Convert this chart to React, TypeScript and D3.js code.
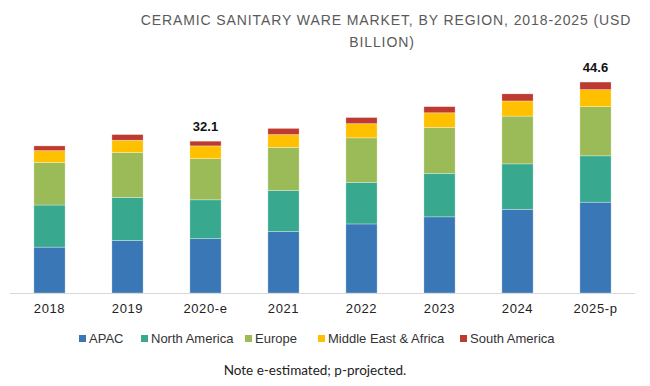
import React, {useEffect, useRef} from 'react';
import * as d3 from 'd3';

const years = ['2018', '2019', '2020-e', '2021', '2022', '2023', '2024', '2025-p'];
const regions = ['APAC', 'North America', 'Europe', 'Middle East & Africa', 'South America'];
const apac = [9.7, 11.1, 11.5, 13.0, 14.6, 16.1, 17.7, 19.2];
const northAmerica = [8.9, 9.1, 8.2, 8.7, 8.8, 9.2, 9.6, 9.8];
const europe = [9.0, 9.5, 8.7, 9.1, 9.4, 9.7, 10.1, 10.4];
const mea = [2.5, 2.6, 2.7, 2.7, 3.0, 3.1, 3.2, 3.6];
const southAmerica = [1.0, 1.2, 1.0, 1.3, 1.3, 1.3, 1.5, 1.6];
const totalLabels = ['', '', '32.1', '', '', '', '', '44.6'];
const colors = ['#3a77b7', '#38a98f', '#9bbb59', '#ffc000', '#be3a30'];

const W = 650;
const H = 386;

export default function App() {
  const ref = useRef<SVGSVGElement>(null);

  useEffect(() => {
    const svg = d3.select(ref.current);
    svg.selectAll('*').remove();

    const series = [apac, northAmerica, europe, mea, southAmerica];
    const rows = years.map((yr, i) => {
      const r: any = {year: yr};
      regions.forEach((k, j) => (r[k] = series[j][i]));
      return r;
    });
    const stacked = d3.stack().keys(regions)(rows);

    const x = d3.scaleBand()
        .domain(years)
        .range([10.5, 634.5])
        .paddingInner(0.6)
        .paddingOuter(0.3);
    const y = d3.scaleLinear().domain([0, 50]).range([293, 56.5]);

    // title
    const title = svg.append('text')
        .attr('text-anchor', 'middle')
        .style('font-family', 'Liberation Sans, Arial, sans-serif')
        .style('font-size', '14px')
        .style('letter-spacing', '0.9px')
        .style('fill', '#5a5a5a');
    title.append('tspan').attr('x', 386).attr('y', 25)
        .text('CERAMIC SANITARY WARE MARKET, BY REGION, 2018-2025 (USD');
    title.append('tspan').attr('x', 382).attr('y', 47).text('BILLION)');

    // bars
    svg.append('g').selectAll('g')
        .data(stacked)
        .join('g')
        .attr('fill', (d, i) => colors[i])
        .selectAll('rect')
        .data((d) => d)
        .join('rect')
        .attr('x', (d: any) => x(d.data.year)!)
        .attr('width', x.bandwidth())
        .attr('y', (d) => y(d[1]))
        .attr('height', (d) => y(d[0]) - y(d[1]))
        .attr('stroke', '#ffffff')
        .attr('stroke-opacity', 0.5)
        .attr('stroke-width', 0.6);

    // axis line
    svg.append('line')
        .attr('x1', 10).attr('x2', 635)
        .attr('y1', y(0) + 0.5).attr('y2', y(0) + 0.5)
        .attr('stroke', '#d9d9d9');

    svg.append('g').selectAll('text')
        .data(years)
        .join('text')
        .attr('x', (d) => x(d)! + x.bandwidth() / 2)
        .attr('y', 313)
        .attr('text-anchor', 'middle')
        .style('font-family', 'Liberation Sans, Arial, sans-serif')
        .style('font-size', '13px')
        .style('letter-spacing', '0.6px')
        .style('fill', '#222')
        .text((d) => d);

    // total labels
    const top = stacked[stacked.length - 1];
    svg.append('g').selectAll('text')
        .data(totalLabels)
        .join('text')
        .attr('x', (d, i) => x(years[i])! + x.bandwidth() / 2)
        .attr('y', (d, i) => y(top[i][1]) - 10)
        .attr('text-anchor', 'middle')
        .style('font-family', 'Liberation Sans, Arial, sans-serif')
        .style('font-size', '13px')
        .style('font-weight', 'bold')
        .style('fill', '#111')
        .text((d) => d);

    // legend
    const legendX = [79, 141, 245, 318, 460];
    const lg = svg.append('g').selectAll('g')
        .data(regions)
        .join('g')
        .attr('transform', (d, i) => `translate(${legendX[i]},335)`);
    lg.append('rect')
        .attr('width', 7).attr('height', 7)
        .attr('fill', (d, i) => colors[i]);
    lg.append('text')
        .attr('x', 10).attr('y', 8)
        .style('font-family', 'Liberation Sans, Arial, sans-serif')
        .style('font-size', '13px')
        .style('fill', '#333')
        .text((d) => d);

    svg.append('text')
        .attr('x', 315).attr('y', 375)
        .attr('text-anchor', 'middle')
        .style('font-family', 'Lato, sans-serif')
        .style('font-size', '13.5px')
        .style('fill', '#222')
        .text('Note e-estimated; p-projected.');
  }, []);

  return (
    <div style={{position: 'fixed', left: 0, top: 0, background: '#fff'}}>
      <svg ref={ref} width={W} height={H}></svg>
    </div>
  );
}
